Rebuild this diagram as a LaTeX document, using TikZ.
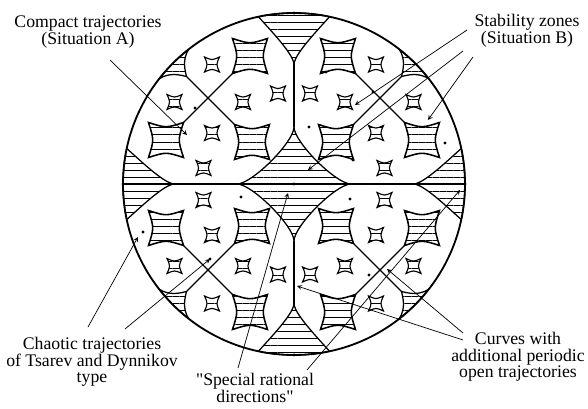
\documentclass[tikz,border=0pt]{standalone}
\usepackage{fontspec}
\setmainfont{Liberation Serif}
\usetikzlibrary{patterns.meta}

%% 內凹的四角形 (中心 x, 中心 y, 半寬, 控制點比例)
\newcommand{\zonesq}[4]{%
  (#1-#3,#2+#3) .. controls (#1-#4*#3,#2) .. (#1-#3,#2-#3)
  .. controls (#1,#2-#4*#3) .. (#1+#3,#2-#3)
  .. controls (#1+#4*#3,#2) .. (#1+#3,#2+#3)
  .. controls (#1,#2+#4*#3) .. (#1-#3,#2+#3) -- cycle}

\begin{document}
\begin{tikzpicture}[x=0.025cm, y=0.025cm, >=stealth,
    rim/.style={line width=1.3pt},
    zoneline/.style={line width=0.9pt, line join=round},
    hatch/.style={pattern={Lines[distance=5pt, line width=0.45pt]}},
    bigsq/.style={line width=1.1pt, hatch},
    smallsq/.style={line width=0.8pt, hatch},
    lead/.style={line width=0.5pt},
    lbl/.style={align=center, inner sep=0pt, font=\fontsize{12.6}{11.8}\selectfont}]

\useasboundingbox (-294,-225) rectangle (294,184);

%% ==== 中心的星形區域 ====================================================
\draw[zoneline, hatch] (0,57) .. controls (0,42) and (-42,0) .. (-57,0)
  .. controls (-42,0) and (0,-42) .. (0,-57)
  .. controls (0,-42) and (42,0) .. (57,0)
  .. controls (42,0) and (0,42) .. (0,57) -- cycle;

%% 水平直徑
\draw[zoneline] (180:171) -- (0:171);

%% ==== 四個象限, 以左上象限為準旋轉 =========================================
\foreach \r in {0,90,180,270} {
\begin{scope}[rotate=\r]

  %% 圓周上的缺口與軸上的線段
  \draw[zoneline, hatch] (102:171) .. controls (-20,150) and (-3,132) .. (0,121)
    .. controls (3,132) and (20,150) .. (78:171)
    arc[start angle=78, end angle=102, radius=171] -- cycle;
  \draw[zoneline] (0,121) -- (0,57);

  %% 對角線上的小三角形
  \draw[zoneline, hatch] (128:171) .. controls (-112,124) and (-109,114) .. (-107.5,107.5)
    .. controls (-114,109) and (-124,112) .. (142:171)
    arc[start angle=142, end angle=128, radius=171] -- cycle;

  %% 穩定區之間的分界線
  \draw[zoneline] (-107.5,107.5) -- (-59.5,59.5);
  \draw[zoneline] (-110.5,61.5) -- (-61.5,110.5);

  %% 大的與小的內凹四角形
  \foreach \x/\y in {-44/128, -128/44, -42/42}
    \draw[bigsq] \zonesq{\x}{\y}{17.5}{0.68};
  \foreach \x/\y in {-82/119.5, -119.5/82, -51/82, -82/51, -16/90.5, -90.5/16}
    \draw[smallsq] \zonesq{\x}{\y}{7.5}{0.55};

\end{scope}
}

%% 外圓
\draw[rim] (0,0) circle[radius=171];

%% 點
\foreach \p in {(0,171), (0,-171), (-171,0), (171,0), (0,0),
                (-99,76), (32,112), (79,92), (15,57), (59,24), (151,41),
                (-53,-13), (-151,-48), (-84,-75), (56,-15), (75,-91)}
  \fill \p circle[radius=1.6];

%% ==== 標示文字 ==========================================================
\node[lbl] (compact)   at (-206,152) {Compact trajectories\\(Situation A)};
\node[lbl] (stability) at (233,153)  {Stability zones\\(Situation B)};
\node[lbl] (chaotic)   at (-202,-178) {Chaotic trajectories\\of Tsarev and Dynnikov\\type};
\node[lbl] (special)   at (-39,-204) {\textquotedbl Special rational\\directions\textquotedbl};
\node[lbl] (curves)    at (224,-173) {Curves with\\additional periodic\\open trajectories};

%% 引線的端點
\coordinate (compact-s) at (-184,124);  \coordinate (compact-e) at (-107,49);
\coordinate (stab-s1) at (173,154);     \coordinate (stab-e1) at (61,79);
\coordinate (stab-s2) at (169,133);     \coordinate (stab-e2) at (14,14);
\coordinate (stab-s3) at (179,127);     \coordinate (stab-e3) at (134,64);
\coordinate (chaos-s1) at (-206,-143);  \coordinate (chaos-e1) at (-156,-53);
\coordinate (chaos-s2) at (-169,-145);  \coordinate (chaos-e2) at (-84,-75);
\coordinate (spec-s1) at (-56,-184);    \coordinate (spec-e1) at (-6,-9);
\coordinate (spec-s2) at (13,-186);     \coordinate (spec-e2) at (166,-6);
\coordinate (curv-s1) at (169,-149);    \coordinate (curv-e1) at (93,-85);
\coordinate (curv-s2) at (169,-156);    \coordinate (curv-e2) at (3,-102);

%% 引線
\draw[lead, ->] (compact-s) -- (compact-e);
\draw[lead, ->] (stab-s1) -- (stab-e1);
\draw[lead, ->] (stab-s2) -- (stab-e2);
\draw[lead, ->] (stab-s3) -- (stab-e3);
\draw[lead, ->] (chaos-s1) -- (chaos-e1);
\draw[lead, ->] (chaos-s2) -- (chaos-e2);
\draw[lead, ->] (spec-s1) -- (spec-e1);
\draw[lead, ->] (spec-s2) -- (spec-e2);
\draw[lead, ->] (curv-s1) -- (curv-e1);
\draw[lead, ->] (curv-s2) -- (curv-e2);

\end{tikzpicture}
\end{document}
